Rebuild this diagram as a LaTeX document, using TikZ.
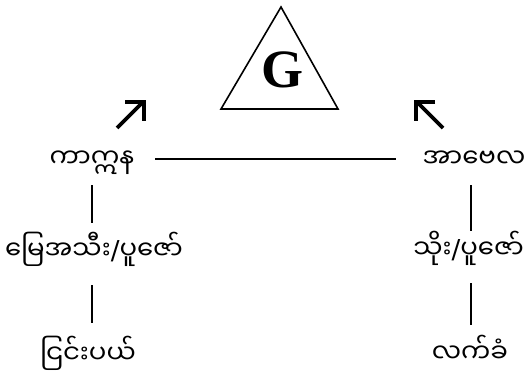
\documentclass[tikz,border=0pt]{standalone}
\usepackage{fontspec}
\newfontfamily\mya[Script=Myanmar]{Noto Sans Myanmar UI}
\newfontfamily\lat{DejaVu Sans}
\newfontfamily\gfont{Liberation Serif}
\newcommand{\myslash}{{\lat /}}
\usetikzlibrary{calc}
\tikzset{
  lbl/.style={font=\mya\fontsize{26}{30}\selectfont, inner sep=0pt, anchor=base},
  conn/.style={line width=1.6pt},
  tri/.style={line width=1.6pt, line join=miter},
  bigarrow/.style={line width=3.6pt, line cap=butt, line join=miter}
}
\begin{document}
\begin{tikzpicture}[x=1pt,y=1pt]
\useasboundingbox (0,0) rectangle (529,373);
% triangle with G
\draw[tri] (281,366) coordinate (apex) -- (338,264) -- (221,264) -- cycle;
\node[inner sep=0pt, font=\gfont\bfseries\fontsize{54}{60}\selectfont] (g) at (282,303) {G};
% arrows
\draw[bigarrow] (117,245) -- (143,271);
\draw[bigarrow] (125,271) -- (144,271) -- (144,252);
\draw[bigarrow] (443,245) -- (417,271);
\draw[bigarrow] (435,271) -- (416,271) -- (416,252);
% labels
\node[lbl] (kain) at (92,206) {ကာဣန};
\node[lbl] (abel) at (474,206) {အာဗေလ};
\node[lbl] (leftoff) at (94,114) {မြေအသီး\myslash ပူဇော်};
\node[lbl, anchor=base east] (rightoff) at (524,115) {သိုး\myslash ပူဇော်};
\node[lbl] (reject) at (88,10) {ငြင်းပယ်};
\node[lbl] (accept) at (470,11) {လက်ခံ};
% connectors
\draw[conn] ($(kain.base)+(63,8)$) -- ($(abel.base)+(-78,8)$);
\draw[conn] ($(kain.base)+(0,-18)$) -- ($(kain.base |- leftoff.base)+(0,36)$);
\draw[conn] ($(kain.base |- leftoff.base)+(0,-26)$) -- ($(kain.base |- reject.base)+(0,40)$);
\draw[conn] ($(abel.base)+(-3,-18)$) -- ($(abel.base |- rightoff.base)+(-3,27)$);
\draw[conn] ($(abel.base |- rightoff.base)+(-3,-25)$) -- ($(abel.base |- accept.base)+(-3,37)$);
\end{tikzpicture}
\end{document}
